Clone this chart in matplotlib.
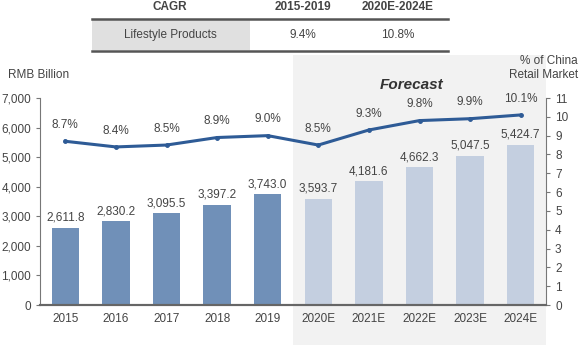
import matplotlib
matplotlib.use("Agg")
import matplotlib.pyplot as plt
from matplotlib.patches import Rectangle
from matplotlib.lines import Line2D
from matplotlib.transforms import blended_transform_factory

plt.rcParams['font.family'] = ['Liberation Sans', 'DejaVu Sans']

years = ["2015", "2016", "2017", "2018", "2019",
         "2020E", "2021E", "2022E", "2023E", "2024E"]
sales = [2611.8, 2830.2, 3095.5, 3397.2, 3743.0,
         3593.7, 4181.6, 4662.3, 5047.5, 5424.7]
share = [8.7, 8.4, 8.5, 8.9, 9.0, 8.5, 9.3, 9.8, 9.9, 10.1]
n_hist = 5

cagr_header = ["CAGR", "2015-2019", "2020E-2024E"]
cagr_row = ["Lifestyle Products", "9.4%", "10.8%"]

txt = "#444444"
hist_col = "#7090b8"
fc_col = "#c4cfe0"
line_col = "#2e5b96"

fig = plt.figure(figsize=(5.8, 3.47), dpi=100)
W, H = 580, 347

def fx(px):
    return px / W

def fy(py):
    return 1 - py / H

ax = fig.add_axes([fx(40), fy(305), fx(546) - fx(40), fy(98) - fy(305)])
ax.set_facecolor("none")
ax2 = ax.twinx()
ax2.set_facecolor("none")

x = list(range(len(years)))

# shaded forecast block, runs above and below the plot area
tr = blended_transform_factory(ax.transData, fig.transFigure)
shade = Rectangle((n_hist - 0.5, fy(345)), len(years) - n_hist, fy(55) - fy(345),
                  transform=tr, facecolor="#f2f2f2", edgecolor="none",
                  zorder=0, clip_on=False)
ax.add_patch(shade)

colors = [hist_col if i < n_hist else fc_col for i in x]
ax.bar(x, sales, width=0.54, color=colors, zorder=2)
for i, v in zip(x, sales):
    ax.text(i, v + 130, f"{v:,.1f}", ha="center", va="bottom",
            fontsize=8.5, color=txt)

ax.set_xlim(-0.5, len(years) - 0.5)
ax.set_ylim(0, 7000)
ax.set_yticks(range(0, 7001, 1000))
ax.set_yticklabels([f"{v:,}" for v in range(0, 7001, 1000)])
ax.set_xticks(x)
ax.set_xticklabels(years)
ax.tick_params(axis="x", length=0, labelsize=8.5, labelcolor=txt, pad=6)
ax.tick_params(axis="y", length=3, labelsize=8.5, labelcolor=txt, color="#777777")

ax2.plot(x, share, color=line_col, lw=2.2, marker="o", ms=2.5, zorder=3)
for i, v in zip(x, share):
    ax2.text(i, v + 0.55, f"{v:.1f}%", ha="center", va="bottom",
             fontsize=8.5, color=txt)
ax2.set_ylim(0, 11)
ax2.set_yticks(range(0, 12))
ax2.tick_params(axis="y", length=3, labelsize=8.5, labelcolor=txt, color="#777777")

for a in (ax, ax2):
    a.spines["top"].set_visible(False)
    a.spines["left"].set_color("#777777")
    a.spines["right"].set_color("#777777")
    a.spines["bottom"].set_color("#666666")
    a.spines["bottom"].set_linewidth(1.5)
ax2.spines["left"].set_visible(False)
ax.spines["right"].set_visible(False)

fig.text(fx(8), fy(75), "RMB Billion", fontsize=8.5, color=txt, va="center")
fig.text(fx(578), fy(68), "% of China\nRetail Market", fontsize=8.5, color=txt,
         ha="right", va="center", linespacing=1.3)
fig.text(fx(412), fy(85), "Forecast", fontsize=11, fontweight="bold",
         fontstyle="italic", color="#333333", ha="center", va="center")

# CAGR table above the chart
col_x = [fx(170), fx(303), fx(398)]
for cx, t in zip(col_x, cagr_header):
    fig.text(cx, fy(7), t, fontsize=8.5, fontweight="bold", color=txt,
             ha="center", va="center")
fig.patches.append(Rectangle((fx(92), fy(50)), fx(250) - fx(92), fy(20) - fy(50),
                             transform=fig.transFigure, facecolor="#e0e0e0",
                             edgecolor="none"))
for cx, t in zip(col_x, cagr_row):
    fig.text(cx, fy(35), t, fontsize=8.5, color=txt, ha="center", va="center")
for yy in (19, 51):
    fig.add_artist(Line2D([fx(92), fx(448)], [fy(yy), fy(yy)],
                          transform=fig.transFigure, color="#555555", lw=1.8))

fig.savefig("out.png", dpi=100)
